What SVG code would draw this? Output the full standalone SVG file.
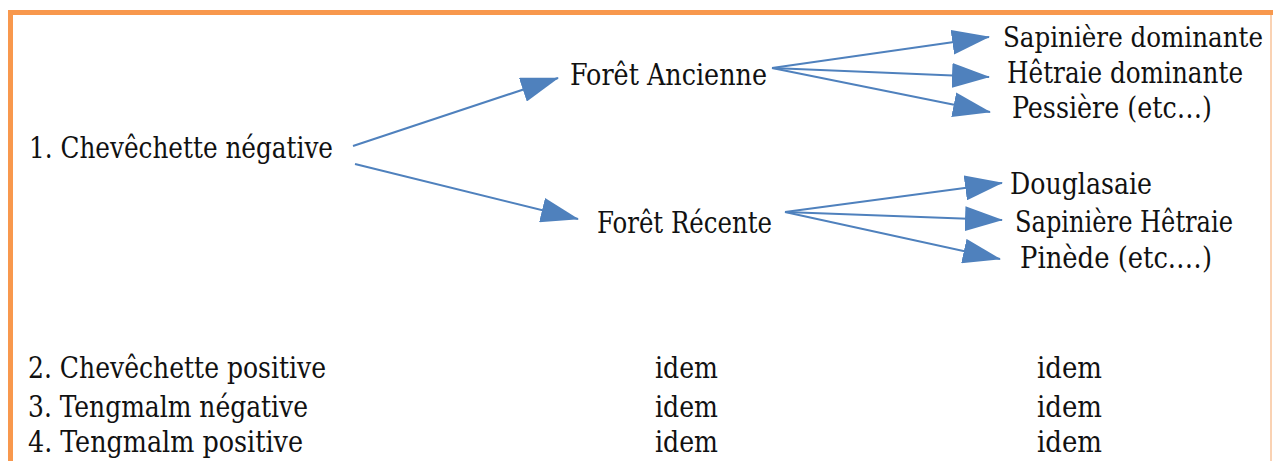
<svg xmlns="http://www.w3.org/2000/svg" width="1274" height="461" viewBox="0 0 1274 461">
<style>
  text { font-family: 'DejaVu Serif Condensed', 'DejaVu Serif', serif; font-stretch: condensed; font-size: 29px; fill: #111; }
  text.sm { font-size: 27px; }
  .conn { stroke: #4F81BD; stroke-width: 2; fill: none; }
  .frame { stroke: #F8984D; stroke-width: 5; fill: none; }
  .frame-r { stroke: #F9C39A; stroke-width: 1.5; fill: none; }
</style>
<defs>
  <marker id="ah" viewBox="0 0 38 25" markerWidth="38" markerHeight="25" refX="37" refY="12.5" orient="auto" markerUnits="userSpaceOnUse">
    <path d="M0,0 L38,12.5 L0,25 Z" fill="#4F81BD"/>
  </marker>
</defs>
<rect width="1274" height="461" fill="#ffffff"/>
<g id="frame">
  <path class="frame" d="M10.5,461 L10.5,12.5 L1273,12.5"/>
  <path class="frame-r" d="M1271,15 L1271,461"/>
</g>
<g id="connectors">
  <line class="conn" x1="353" y1="146" x2="558" y2="78" marker-end="url(#ah)"/>
  <line class="conn" x1="355" y1="164" x2="578" y2="219" marker-end="url(#ah)"/>
  <line class="conn" x1="772" y1="68" x2="989" y2="37" marker-end="url(#ah)"/>
  <line class="conn" x1="772" y1="68" x2="989" y2="77" marker-end="url(#ah)"/>
  <line class="conn" x1="772" y1="68" x2="990" y2="112" marker-end="url(#ah)"/>
  <line class="conn" x1="785" y1="212" x2="1002" y2="183" marker-end="url(#ah)"/>
  <line class="conn" x1="785" y1="212" x2="1002" y2="220" marker-end="url(#ah)"/>
  <line class="conn" x1="785" y1="212" x2="1000" y2="259" marker-end="url(#ah)"/>
</g>
<g id="n1"><text x="29" y="158" textLength="304" lengthAdjust="spacingAndGlyphs">1. Chevêchette négative</text></g>
<g id="fa"><text x="570" y="85" textLength="197" lengthAdjust="spacingAndGlyphs">Forêt Ancienne</text></g>
<g id="fr"><text x="597" y="233" textLength="175" lengthAdjust="spacingAndGlyphs">Forêt Récente</text></g>
<g id="sd"><text class="sm" x="1003" y="47" textLength="260" lengthAdjust="spacingAndGlyphs">Sapinière dominante</text></g>
<g id="hd"><text x="1007" y="83" textLength="236" lengthAdjust="spacingAndGlyphs">Hêtraie dominante</text></g>
<g id="pe"><text x="1012" y="118" textLength="200" lengthAdjust="spacingAndGlyphs">Pessière (etc…)</text></g>
<g id="dg"><text x="1010" y="194" textLength="142" lengthAdjust="spacingAndGlyphs">Douglasaie</text></g>
<g id="sh"><text x="1015" y="232" textLength="218" lengthAdjust="spacingAndGlyphs">Sapinière Hêtraie</text></g>
<g id="pi"><text x="1020" y="268" textLength="192" lengthAdjust="spacingAndGlyphs">Pinède (etc.…)</text></g>
<g id="n2"><text x="28" y="378" textLength="298" lengthAdjust="spacingAndGlyphs">2. Chevêchette positive</text></g>
<g id="n3"><text x="28" y="417" textLength="280" lengthAdjust="spacingAndGlyphs">3. Tengmalm négative</text></g>
<g id="n4"><text x="28" y="452" textLength="275" lengthAdjust="spacingAndGlyphs">4. Tengmalm positive</text></g>
<g id="idem1">
  <text x="655" y="378" textLength="63" lengthAdjust="spacingAndGlyphs">idem</text>
  <text x="655" y="417" textLength="63" lengthAdjust="spacingAndGlyphs">idem</text>
  <text x="655" y="452" textLength="63" lengthAdjust="spacingAndGlyphs">idem</text>
</g>
<g id="idem2">
  <text x="1037" y="378" textLength="65" lengthAdjust="spacingAndGlyphs">idem</text>
  <text x="1037" y="417" textLength="65" lengthAdjust="spacingAndGlyphs">idem</text>
  <text x="1037" y="452" textLength="65" lengthAdjust="spacingAndGlyphs">idem</text>
</g>
</svg>
